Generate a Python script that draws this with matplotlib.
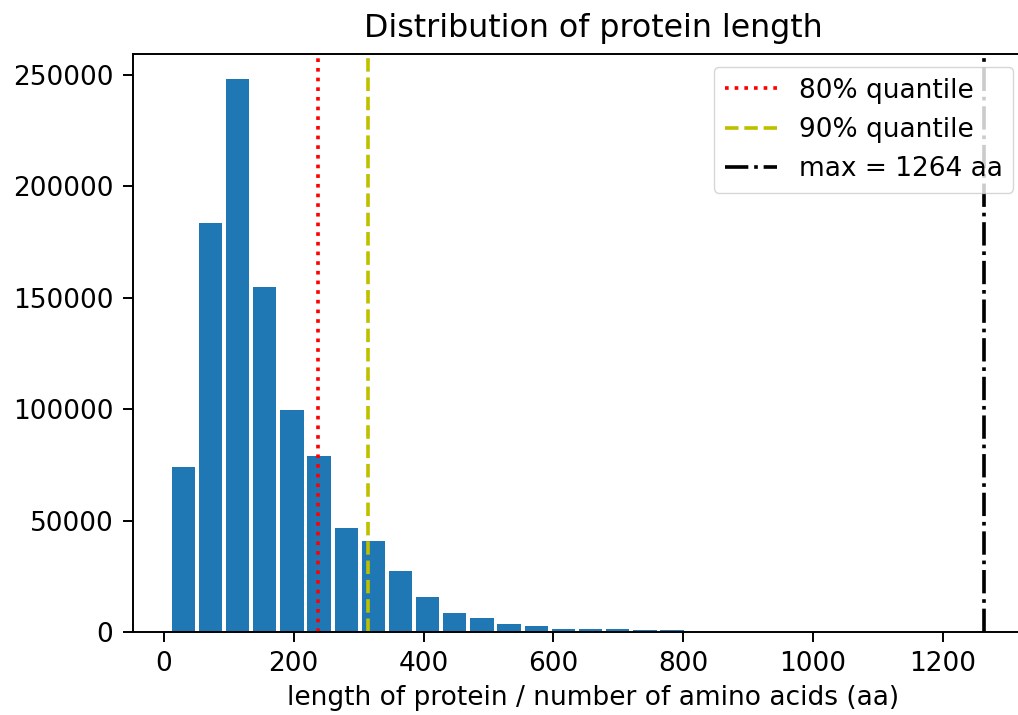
import numpy as np
import matplotlib
matplotlib.use("Agg")
import matplotlib.pyplot as plt

# ---- data ----
bin_start = 9
bin_stop = 1264
n_bins = 30
counts = [74200, 183400, 248100, 154700, 99600, 79000, 46800, 41000, 27500,
          15800, 8700, 6400, 3900, 2800, 1600, 1400, 1300, 1200, 1000,
          100, 50, 20, 10, 5, 3, 2, 1, 1, 0, 1]
q80 = 237
q90 = 315
max_len = 1264
x_ticks = [0, 200, 400, 600, 800, 1000, 1200]
y_ticks = [0, 50000, 100000, 150000, 200000, 250000]

F = 1.9   # font scale
L = 1.75  # line scale

plt.rcParams.update({
    "font.family": ["DejaVu Sans"],
    "font.size": 10 * F,
    "axes.linewidth": 0.8 * L,
    "xtick.major.width": 0.8 * L,
    "ytick.major.width": 0.8 * L,
    "xtick.major.size": 7,
    "ytick.major.size": 7,
    "xtick.major.pad": 6.5,
    "ytick.major.pad": 7.5,
    "axes.titlepad": 12.5,
    "axes.labelpad": 6,
})

edges = np.linspace(bin_start, bin_stop, n_bins + 1)
centers = (edges[:-1] + edges[1:]) / 2

fig = plt.figure(figsize=(10.18, 7.15), dpi=100)
ax = fig.add_axes([0.131, 0.1157, 0.9035, 0.8088])

ax.hist(centers, bins=edges, weights=counts, rwidth=0.86, color="tab:blue")
ax.axvline(q80, color="r", linestyle=":", linewidth=1.5 * L, label="80% quantile")
ax.axvline(q90, color="y", linestyle="--", linewidth=1.5 * L, label="90% quantile")
ax.axvline(max_len, color="k", linestyle="-.", linewidth=1.5 * L, label=f"max = {max_len} aa")

ax.set_xlim(-47, 1370)
ax.set_ylim(0, 259300)
ax.set_xticks(x_ticks)
ax.set_yticks(y_ticks)
ax.spines["right"].set_visible(False)
ax.set_title("Distribution of protein length", fontsize=12 * F)
ax.set_xlabel("length of protein / number of amino acids (aa)")
ax.legend(loc="upper right", fontsize=10 * F,
          bbox_to_anchor=(1013 / 1018, 1 - 67 / 715),
          bbox_transform=fig.transFigure, borderaxespad=0)

fig.savefig("out.png", dpi=100)
